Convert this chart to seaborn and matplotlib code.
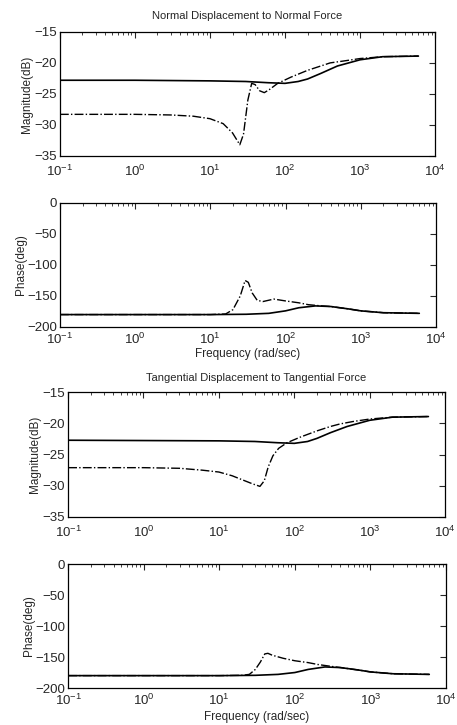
import matplotlib
matplotlib.use('Agg')
import matplotlib.pyplot as plt
import seaborn as sns

sns.set_style('white')
plt.rcParams['font.family'] = ['Liberation Sans', 'DejaVu Sans']
plt.rcParams['mathtext.default'] = 'regular'
plt.rcParams['axes.unicode_minus'] = True

# Normal displacement / normal force -------------------------------------
n_mag_f1 = [0.1, 1, 10, 30, 60, 100, 150, 200, 300, 500, 1000, 2000, 6000]
n_mag_1 = [-22.8, -22.8, -22.9, -23.0, -23.2, -23.3, -23.0, -22.6, -21.7, -20.5, -19.5, -19.0, -18.9]
n_mag_f2 = [0.1, 1, 3, 6, 10, 15, 20, 25, 28, 32, 36, 40, 46, 53, 62, 80, 120, 200,
            300, 400, 600, 1000, 2000, 6000]
n_mag_2 = [-28.3, -28.3, -28.4, -28.6, -29.0, -29.8, -31.3, -33.2, -31.5, -26.0, -23.3,
           -23.5, -24.5, -24.8, -24.3, -23.3, -22.3, -21.2, -20.5, -20.0, -19.7, -19.3,
           -19.0, -18.9]

n_ph_f1 = [0.1, 10, 30, 60, 100, 150, 250, 400, 700, 1000, 2000, 6000]
n_ph_1 = [-180, -180, -179.5, -178, -174, -169, -166, -167, -171, -174, -177, -178]
n_ph_f2 = [0.1, 10, 16, 20, 25, 29, 32, 36, 42, 50, 70, 100, 150, 200, 300, 400,
           700, 1000, 2000, 6000]
n_ph_2 = [-180, -180, -179, -172, -150, -125, -128, -145, -157, -159, -155, -158, -161,
          -164, -166, -167, -171, -174, -177, -178]

# Tangential displacement / tangential force -----------------------------
t_mag_f1 = [0.1, 10, 30, 60, 100, 150, 200, 300, 500, 1000, 2000, 6000]
t_mag_1 = [-22.7, -22.8, -22.9, -23.1, -23.2, -22.9, -22.4, -21.5, -20.5, -19.5, -19.0, -18.9]
t_mag_f2 = [0.1, 1, 3, 6, 10, 15, 20, 28, 35, 40, 45, 52, 62, 80, 120, 200, 300, 400,
            600, 1000, 2000, 6000]
t_mag_2 = [-27.1, -27.1, -27.2, -27.5, -27.8, -28.4, -29.0, -29.7, -30.1, -29.2, -27.0,
           -25.2, -24.0, -23.1, -22.2, -21.2, -20.5, -20.1, -19.7, -19.3, -19.0, -18.9]

t_ph_f1 = [0.1, 10, 30, 60, 100, 150, 250, 400, 700, 1000, 2000, 6000]
t_ph_1 = [-180, -180, -179.5, -178, -175, -170, -166, -167, -171, -174, -177, -178]
t_ph_f2 = [0.1, 10, 20, 25, 30, 35, 40, 44, 50, 70, 100, 150, 200, 300, 400, 700,
           1000, 2000, 6000]
t_ph_2 = [-180, -180, -179.5, -178, -170, -158, -145, -144, -147, -152, -156, -159,
          -162, -165, -167, -171, -174, -177, -178]

fig = plt.figure(figsize=(4.57, 7.25), dpi=100)

ax1 = fig.add_axes([0.131, 0.785, 0.821, 0.171])
ax2 = fig.add_axes([0.131, 0.549, 0.823, 0.171])
ax3 = fig.add_axes([0.149, 0.287, 0.825, 0.172])
ax4 = fig.add_axes([0.149, 0.051, 0.827, 0.171])

panels = [
    (ax1, n_mag_f1, n_mag_1, n_mag_f2, n_mag_2),
    (ax2, n_ph_f1, n_ph_1, n_ph_f2, n_ph_2),
    (ax3, t_mag_f1, t_mag_1, t_mag_f2, t_mag_2),
    (ax4, t_ph_f1, t_ph_1, t_ph_f2, t_ph_2),
]

for ax, f1, y1, f2, y2 in panels:
    sns.lineplot(x=f1, y=y1, ax=ax, color='k', linewidth=1.2, estimator=None, sort=False)
    sns.lineplot(x=f2, y=y2, ax=ax, color='k', linewidth=1.0, linestyle='-.',
                 estimator=None, sort=False)
    ax.set_xscale('log')
    ax.set_xlim(0.1, 10000)
    ax.tick_params(which='both', direction='in', top=True, right=True, labelsize=9.5)
    ax.tick_params(axis='x', which='major', pad=3.5)
    ax.tick_params(axis='y', which='major', pad=2)
    ax.tick_params(which='major', length=4, width=0.8)
    ax.tick_params(which='minor', length=2, width=0.6)
    for s in ax.spines.values():
        s.set_linewidth(0.9)
        s.set_color('k')

for ax in [ax1, ax3]:
    ax.set_ylim(-35, -15)
    ax.set_yticks([-35, -30, -25, -20, -15])
    ax.set_ylabel('Magnitude(dB)', fontsize=8.5, labelpad=1)
    ax.tick_params(axis='x', which='major', pad=5.5)

for ax in [ax2, ax4]:
    ax.set_ylim(-200, 0)
    ax.set_yticks([-200, -150, -100, -50, 0])
    ax.set_ylabel('Phase(deg)', fontsize=8.5, labelpad=0)

ax2.set_xlabel('Frequency (rad/sec)', fontsize=8.5, labelpad=0.5)
ax4.set_xlabel('Frequency (rad/sec)', fontsize=8.5, labelpad=2)

ax1.set_title('Normal Displacement to Normal Force', fontsize=8, pad=9)
ax3.set_title('Tangential Displacement to Tangential Force', fontsize=8, pad=8)

plt.savefig('out.png', dpi=100)
